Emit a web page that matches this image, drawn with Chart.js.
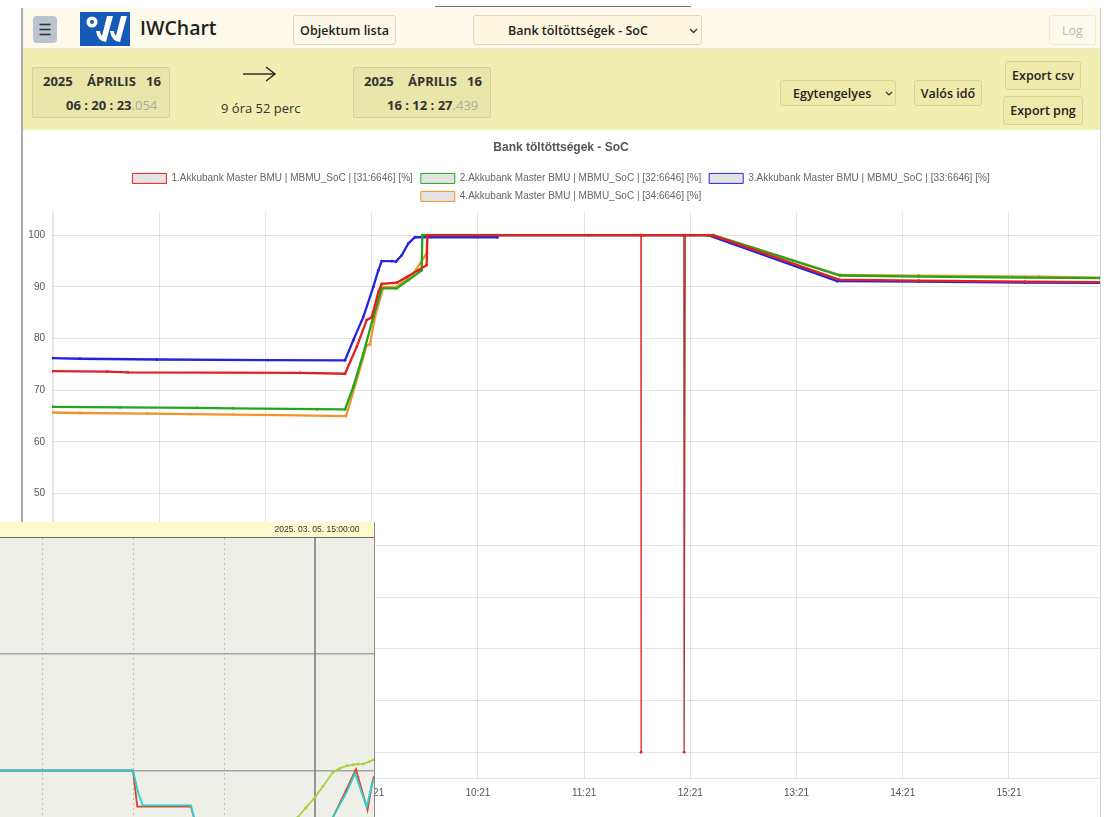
<!DOCTYPE html>
<html><head><meta charset="utf-8">
<script src="https://cdn.jsdelivr.net/npm/chart.js@4.4.1/dist/chart.umd.min.js"></script>
<style>
html,body{margin:0;padding:0;background:#fff;width:1110px;height:817px;overflow:hidden;font-family:"Open Sans","Noto Sans",sans-serif;}
.abs{position:absolute;}
.btn{position:absolute;box-sizing:border-box;border:1px solid #ddd8c2;border-radius:3px;font-weight:600;font-size:12.5px;color:#222;display:flex;align-items:center;justify-content:center;white-space:nowrap;}
.ybtn{background:#eeeaa9;border-color:#d6d29c;}
.dbox{position:absolute;box-sizing:border-box;background:#e8e6a9;border:1px solid #d2d09c;border-radius:2px;width:138px;height:51px;top:67px;}
.dt{position:absolute;font-weight:700;font-size:13px;color:#333;white-space:nowrap;line-height:16px;}
.ms{font-weight:400;color:#aaa;}
</style>
</head><body>
<div class="abs" style="left:435px;top:6px;width:256px;height:1px;background:#777;"></div>
<div class="abs" style="left:22px;top:8px;width:1078px;height:40px;background:#fdfaeb;border-bottom:1px solid #ece7cc;"></div>
<div class="abs" style="left:22px;top:49px;width:1078px;height:81px;background:#f0eeb0;"></div>
<div class="abs" style="left:21px;top:8px;width:2px;height:809px;background:#ababab;"></div>
<div class="abs" style="left:1100px;top:8px;width:1px;height:809px;background:#cfcfcf;"></div>

<!-- top bar -->
<div class="abs" style="left:33px;top:16px;width:24px;height:27px;background:#b8c4cf;border-radius:4px;">
  <svg width="24" height="27"><g stroke="#333" stroke-width="1.6"><line x1="6.5" y1="8.5" x2="17.5" y2="8.5"/><line x1="6.5" y1="13.5" x2="17.5" y2="13.5"/><line x1="6.5" y1="18.5" x2="17.5" y2="18.5"/></g></svg>
</div>
<svg class="abs" style="left:80px;top:12px;" width="50" height="34">
  <rect width="50" height="34" fill="#1559b9"/>
  <circle cx="12" cy="10" r="5.5" fill="#fff"/>
  <circle cx="12" cy="10" r="2" fill="#1559b9"/>
  <path d="M16 19 Q18 30 26 30 L33 4 L27 4 L22 24 Q20 22 20 19 Z" fill="#fff"/>
  <path d="M30 19 Q32 30 40 30 L47 4 L41 4 L36 24 Q34 22 34 19 Z" fill="#fff"/>
</svg>
<div class="abs" style="left:140px;top:14px;font-size:19.5px;font-weight:600;color:#222;">IWChart</div>
<div class="btn" style="left:293px;top:15px;width:103px;height:30px;background:#fcf7e6;">Objektum lista</div>
<div class="btn" style="left:473px;top:15px;width:229px;height:30px;background:#fdf6df;justify-content:flex-start;padding-left:34px;">Bank töltöttségek - SoC
  <svg class="abs" style="left:215px;top:12px;" width="9" height="6"><polyline points="1,1 4.5,4.5 8,1" fill="none" stroke="#333" stroke-width="1.3"/></svg>
</div>
<div class="btn" style="left:1049px;top:15px;width:47px;height:30px;background:#fdf9ec;border-color:#ece8da;color:#bbb;font-weight:400;">Log</div>

<!-- date bar -->
<div class="dbox" style="left:32px;"></div>
<div class="dt" style="left:43px;top:73px;">2025</div>
<div class="dt" style="left:87px;top:73px;">ÁPRILIS</div>
<div class="dt" style="left:146px;top:73px;">16</div>
<div class="dt" style="left:66px;top:97px;">06 : 20 : 23<span class="ms">.054</span></div>

<svg class="abs" style="left:240px;top:64px;" width="40" height="20"><line x1="3" y1="10" x2="35" y2="10" stroke="#222" stroke-width="1.4"/><polyline points="26,3 35,10 26,17" fill="none" stroke="#222" stroke-width="1.4"/></svg>
<div class="abs" style="left:221px;top:99px;font-size:13px;color:#333;white-space:nowrap;">9 óra 52 perc</div>

<div class="dbox" style="left:353px;"></div>
<div class="dt" style="left:364px;top:73px;">2025</div>
<div class="dt" style="left:408px;top:73px;">ÁPRILIS</div>
<div class="dt" style="left:467px;top:73px;">16</div>
<div class="dt" style="left:387px;top:97px;">16 : 12 : 27<span class="ms">.439</span></div>

<div class="btn ybtn" style="left:780px;top:80px;width:116px;height:26px;justify-content:flex-start;padding-left:12px;">Egytengelyes
  <svg class="abs" style="left:104px;top:10px;" width="8" height="6"><polyline points="1,1 4,4 7,1" fill="none" stroke="#333" stroke-width="1.2"/></svg>
</div>
<div class="btn ybtn" style="left:914px;top:80px;width:68px;height:26px;">Valós idő</div>
<div class="btn ybtn" style="left:1005px;top:61px;width:76px;height:29px;">Export csv</div>
<div class="btn ybtn" style="left:1003px;top:96px;width:80px;height:29px;">Export png</div>

<canvas id="main" class="abs" style="left:22px;top:130px;" width="1078" height="687"></canvas>

<!-- inset -->
<div class="abs" style="left:0;top:522px;width:374px;height:15px;background:#fdfbcc;"></div>
<div class="abs" style="left:267px;top:524px;width:100px;text-align:center;font-family:'Liberation Sans',Arial,sans-serif;font-size:8.5px;color:#333;">2025. 03. 05. 15:00:00</div>
<div class="abs" style="left:0;top:536.5px;width:374px;height:1.5px;background:#6a6a6a;"></div>
<canvas id="inset" class="abs" style="left:0;top:538px;background:#efefe9;" width="374" height="279"></canvas>
<div class="abs" style="left:374px;top:522px;width:1px;height:295px;background:#8a8a8a;"></div>

<script>
// ---------- main chart data ----------
const seriesNames = [
  "1.Akkubank Master BMU | MBMU_SoC | [31:6646] [%]",
  "2.Akkubank Master BMU | MBMU_SoC | [32:6646] [%]",
  "3.Akkubank Master BMU | MBMU_SoC | [33:6646] [%]",
  "4.Akkubank Master BMU | MBMU_SoC | [34:6646] [%]"
];
const seriesColors = ["#e41f1f", "#1fa81f", "#2424e0", "#f5922a"];
const chartTitle = "Bank töltöttségek - SoC";
const xRange = ["06:20:23", "16:12:27"];
const xTickLabels = ["06:21","07:21","08:21","09:21","10:21","11:21","12:21","13:21","14:21","15:21"];
const yTickValues = [0,10,20,30,40,50,60,70,80,90,100];
const yRange = [-5, 104.6];

const redTimes = ["06:20:23","06:51:30","07:03:20","08:40:30","09:05:55","09:12:32","09:18:11","09:21:00","09:24:44","09:26:39","09:35:08","09:40:47","09:47:20","09:52:04","09:52:25","11:53:00","11:53:10","11:53:20","12:17:20","12:17:30","12:18:10","12:33:20","13:45:00","14:30:00","15:30:00","16:12:27"];
const redValues = [73.7,73.6,73.45,73.35,73.2,78.4,83.6,84.1,89.0,90.6,90.8,91.9,93.2,94.2,100,100,0,100,100,0,100,100,91.4,91.2,91.0,90.9];

const greenTimes = ["06:20:23","06:58:50","07:42:20","08:02:40","08:50:10","09:05:55","09:10:37","09:16:16","09:21:55","09:26:39","09:35:08","09:41:41","09:49:15","09:49:36","12:34:00","13:45:30","14:30:00","15:30:00","16:12:27"];
const greenValues = [66.8,66.7,66.6,66.5,66.35,66.3,70.7,77.1,84.2,89.7,89.7,91.3,93.2,100,100,92.2,92.0,91.8,91.7];

const blueTimes = ["06:20:23","06:36:10","07:19:40","08:22:20","09:05:55","09:10:37","09:16:16","09:21:55","09:24:44","09:26:39","09:32:18","09:34:44","09:37:57","09:41:41","09:45:28","10:31:48","10:32:00","12:31:00","13:44:00","14:30:00","15:30:00","16:12:27"];
const blueValues = [76.2,76.1,75.95,75.85,75.8,79.7,84.2,90.0,93.2,95.0,95.0,94.9,96.1,98.4,99.6,99.6,100,100,91.1,91.0,90.85,90.8];

const orangeTimes = ["06:20:23","06:36:10","07:14:10","07:38:20","08:02:40","08:30:20","08:56:20","09:06:30","09:12:32","09:18:11","09:20:00","09:22:52","09:27:34","09:35:08","09:44:30","09:48:18","09:52:04","09:52:25","12:34:00","13:45:30","14:30:00","15:38:00","16:12:27"];
const orangeValues = [65.7,65.6,65.5,65.4,65.3,65.2,65.05,65.0,72.0,78.7,78.9,84.2,90.0,90.0,92.6,94.5,96.5,100,100,92.3,92.15,92.0,91.8];

// ---------- inset data ----------
const insetRange = ["11:32:18", "15:38:54"];
const insetGridTimes = ["12:00","13:00","14:00"];
const insetLevels = [20, 40];
const insetYRange = [12, 60];
const insetCursorTime = "15:00:00";
const insetCyanTimes = ["11:32:18","13:00:00","13:03:30","13:06:24","13:38:12","13:42:10","13:45:00","15:10:00","15:11:54","15:20:54","15:26:24","15:34:06","15:37:24","15:38:54"];
const insetCyanValues = [20,20,16.1,14.0,14.0,10,9,9,12,16.3,19.5,13.7,17.4,18.6];
const insetRedTimes = ["11:32:18","13:00:00","13:02:48","13:38:12","13:42:10","13:45:00","15:10:00","15:11:54","15:20:30","15:27:00","15:34:36","15:37:40","15:38:54"];
const insetRedValues = [20,20,13.8,13.8,10,9,9,12,16.6,20.2,13.2,17.8,19.0];
const insetLimeTimes = ["14:43:31","14:48:47","14:54:04","15:00:00","15:05:16","15:11:52","15:16:29","15:21:06","15:25:03","15:28:21","15:31:39","15:35:36","15:38:54"];
const insetLimeValues = [10.5,12.0,13.6,15.4,17.3,19.7,20.4,20.8,21.0,21.1,21.15,21.5,21.9];

// ---------- helpers ----------
const toH = s => { const p = s.split(':').map(Number); return p[0] + (p[1]||0)/60 + (p[2]||0)/3600; };
const pts = (t, v) => t.map((s, i) => ({x: toH(s), y: v[i]}));

Chart.defaults.font.family = "'Liberation Sans', Arial, sans-serif";
Chart.defaults.animation = false;

const mainSeries = [[redTimes, redValues],[greenTimes, greenValues],[blueTimes, blueValues],[orangeTimes, orangeValues]];
const legendFill = '#e3e3e3';

new Chart(document.getElementById('main'), {
  type: 'line',
  data: {
    datasets: mainSeries.map((s, i) => ({
      label: seriesNames[i],
      data: pts(s[0], s[1]),
      borderColor: seriesColors[i],
      backgroundColor: seriesColors[i],
      borderWidth: 2.3,
      pointRadius: 1.4,
      pointBorderWidth: 0,
      pointBackgroundColor: seriesColors[i],
      tension: 0,
      fill: false,
      segment: i === 0 ? {
        borderWidth: c => (c.p0.parsed.y < 50 || c.p1.parsed.y < 50) ? 1.3 : undefined,
        borderColor: c => (c.p0.parsed.y < 50 || c.p1.parsed.y < 50) ? (c.p0.parsed.x > 12 ? '#a93a32' : '#e24a4a') : undefined
      } : undefined
    }))
  },
  options: {
    responsive: false,
    devicePixelRatio: 1,
    layout: {padding: 0, autoPadding: false},
    plugins: {
      title: {display: true, text: chartTitle, color: '#555', font: {size: 12, weight: 'bold'}, padding: {top: 10, bottom: 11}},
      legend: {
        labels: {
          boxWidth: 34, boxHeight: 10, padding: 8, color: '#666', font: {size: 10},
          generateLabels: ch => Chart.defaults.plugins.legend.labels.generateLabels(ch).map(l => Object.assign(l, {fillStyle: legendFill, lineWidth: 1}))
        }
      },
      tooltip: {enabled: false}
    },
    scales: {
      x: {
        type: 'linear', min: toH(xRange[0]), max: toH(xRange[1]),
        afterBuildTicks: a => { a.ticks = xTickLabels.map(s => ({value: toH(s)})); },
        afterFit: a => { a.height = 39; },
        ticks: {autoSkip: false, maxRotation: 0, padding: 9, color: '#555', font: {size: 10},
          callback: (v, i) => xTickLabels[i]},
        grid: {drawTicks: false}
      },
      y: {
        min: yRange[0], max: yRange[1],
        afterBuildTicks: a => { a.ticks = yTickValues.map(v => ({value: v})); },
        afterFit: a => { a.width = 30; },
        ticks: {padding: 7, color: '#555', font: {size: 10}},
        grid: {drawTicks: false}
      }
    }
  }
});

// ---------- inset chart ----------
const insetCursor = [{x: toH(insetCursorTime), y: insetYRange[0]}, {x: toH(insetCursorTime), y: insetYRange[1]}];
new Chart(document.getElementById('inset'), {
  type: 'line',
  data: {
    datasets: [
      {data: pts(insetCyanTimes, insetCyanValues), borderColor: '#24d2d4', borderWidth: 1.8, pointRadius: 0},
      {data: pts(insetRedTimes, insetRedValues), borderColor: '#e2421e', borderWidth: 1.8, pointRadius: 0},
      {data: pts(insetLimeTimes, insetLimeValues), borderColor: '#a8d23e', backgroundColor: '#a8d23e', borderWidth: 1.8, pointRadius: 1.5, pointBorderWidth: 0},
      {data: insetCursor, borderColor: '#707070', borderWidth: 1.4, pointRadius: 0}
    ]
  },
  options: {
    responsive: false,
    devicePixelRatio: 1,
    layout: {padding: 0, autoPadding: false},
    plugins: {legend: {display: false}, title: {display: false}, tooltip: {enabled: false}},
    scales: {
      x: {
        type: 'linear', min: toH(insetRange[0]), max: toH(insetRange[1]),
        afterBuildTicks: a => { a.ticks = insetGridTimes.map(s => ({value: toH(s)})); },
        afterFit: a => { a.height = 0; },
        ticks: {display: false},
        grid: {drawTicks: false, color: '#c0c0ba', lineWidth: 1},
        border: {display: false, dash: [2, 3]}
      },
      y: {
        min: insetYRange[0], max: insetYRange[1],
        afterBuildTicks: a => { a.ticks = insetLevels.map(v => ({value: v})); },
        afterFit: a => { a.width = 0; },
        ticks: {display: false},
        grid: {drawTicks: false, color: '#a6a6a2', lineWidth: 1.5},
        border: {display: false}
      }
    }
  }
});
</script>
</body></html>
